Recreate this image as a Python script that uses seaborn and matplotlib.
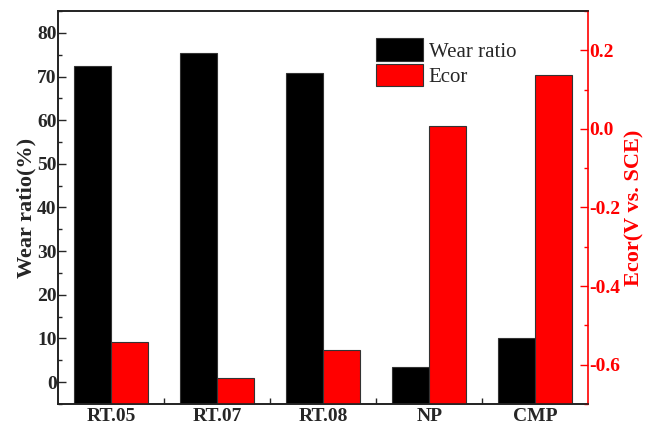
import matplotlib
matplotlib.use("Agg")
import matplotlib.pyplot as plt
import seaborn as sns
import pandas as pd
import numpy as np
from matplotlib.ticker import MultipleLocator, FixedLocator, FormatStrFormatter
from matplotlib.patches import Patch

categories = ["RT.05", "RT.07", "RT.08", "NP", "CMP"]
wear_ratio = [72.4, 75.4, 70.9, 3.5, 10.2]
ecor = [-0.543, -0.634, -0.564, 0.008, 0.138]
series = ["Wear ratio", "Ecor"]
colors = ["#000000", "#ff0000"]

sns.set_style("ticks")
plt.rcParams['font.family'] = ['Liberation Serif', 'DejaVu Serif']
plt.rcParams['axes.unicode_minus'] = False

n = len(categories)
df = pd.DataFrame({
    "cat": categories * 2,
    "series": [series[0]] * n + [series[1]] * n,
    "wear": wear_ratio + [np.nan] * n,
    "ecor": [np.nan] * n + ecor,
})

fig = plt.figure(figsize=(6.58, 4.26), dpi=100)
ax1 = fig.add_axes([0.088, 0.052, 0.806, 0.922])
ax2 = ax1.twinx()

common = dict(x="cat", hue="series", hue_order=series, palette=colors,
              order=categories, width=0.7, gap=0, dodge=True, legend=False,
              errorbar=None, saturation=1, edgecolor="#333333", linewidth=0.8)
sns.barplot(data=df, y="wear", ax=ax1, **common)
sns.barplot(data=df, y="ecor", ax=ax2, **common)

ylim1 = (-5, 85)
ylim2 = (-0.7, 0.3)
ax1.set_ylim(*ylim1)
ax2.set_ylim(*ylim2)
ax1.set_xlim(-0.5, n - 0.5)

# bars start at the bottom of the axis (Origin style)
for ax, lim in ((ax1, ylim1), (ax2, ylim2)):
    for p in ax.patches:
        top = p.get_y() + p.get_height()
        p.set_y(lim[0])
        p.set_height(top - lim[0])

TICK_FS = 14
LABEL_FS = 16

# x axis
ax1.set_xlabel("")
ax2.set_xlabel("")
ax1.tick_params(axis="x", which="major", length=0, pad=3, labelsize=TICK_FS)
ax1.xaxis.set_minor_locator(FixedLocator(np.arange(0.5, n - 0.5, 1.0)))
ax1.tick_params(axis="x", which="minor", direction="in", length=4, width=1, bottom=True, top=False)
for lab in ax1.get_xticklabels():
    lab.set_fontweight("bold")

# left axis
ax1.set_yticks(np.arange(0, 81, 10))
ax1.yaxis.set_minor_locator(MultipleLocator(5))
ax1.tick_params(axis="y", which="major", direction="in", length=6, width=1, labelsize=TICK_FS, pad=1,
                left=True, right=False)
ax1.tick_params(axis="y", which="minor", direction="in", length=3, width=1, left=True, right=False)
for lab in ax1.get_yticklabels():
    lab.set_fontweight("bold")
ax1.set_ylabel("Wear ratio(%)", fontsize=LABEL_FS, fontweight="bold", labelpad=0)

# right axis
ax2.set_yticks(np.arange(-0.6, 0.21, 0.2))
ax2.yaxis.set_major_formatter(FormatStrFormatter("%.1f"))
ax2.yaxis.set_minor_locator(MultipleLocator(0.1))
ax2.tick_params(axis="y", which="major", direction="in", length=6, width=1, labelsize=TICK_FS, pad=1,
                colors="red", left=False, right=True)
ax2.tick_params(axis="y", which="minor", direction="in", length=3, width=1, colors="red",
                left=False, right=True)
for lab in ax2.get_yticklabels():
    lab.set_fontweight("bold")
ax2.set_ylabel("Ecor(V vs. SCE)", fontsize=LABEL_FS, fontweight="bold", color="red", labelpad=3)

for ax in (ax1, ax2):
    for s in ax.spines.values():
        s.set_linewidth(1.2)
        s.set_color("#222222")
ax2.spines["right"].set_color("red")
ax1.spines["right"].set_visible(False)

handles = [Patch(facecolor=c, edgecolor="#333333", linewidth=0.8) for c in colors]
leg = ax2.legend(handles, series, loc="upper left", bbox_to_anchor=(0.585, 0.952),
                 frameon=False, fontsize=15, handlelength=2.25, handleheight=1.3,
                 handletextpad=0.25, labelspacing=0.1, borderaxespad=0)

fig.savefig("out.png", dpi=100)
